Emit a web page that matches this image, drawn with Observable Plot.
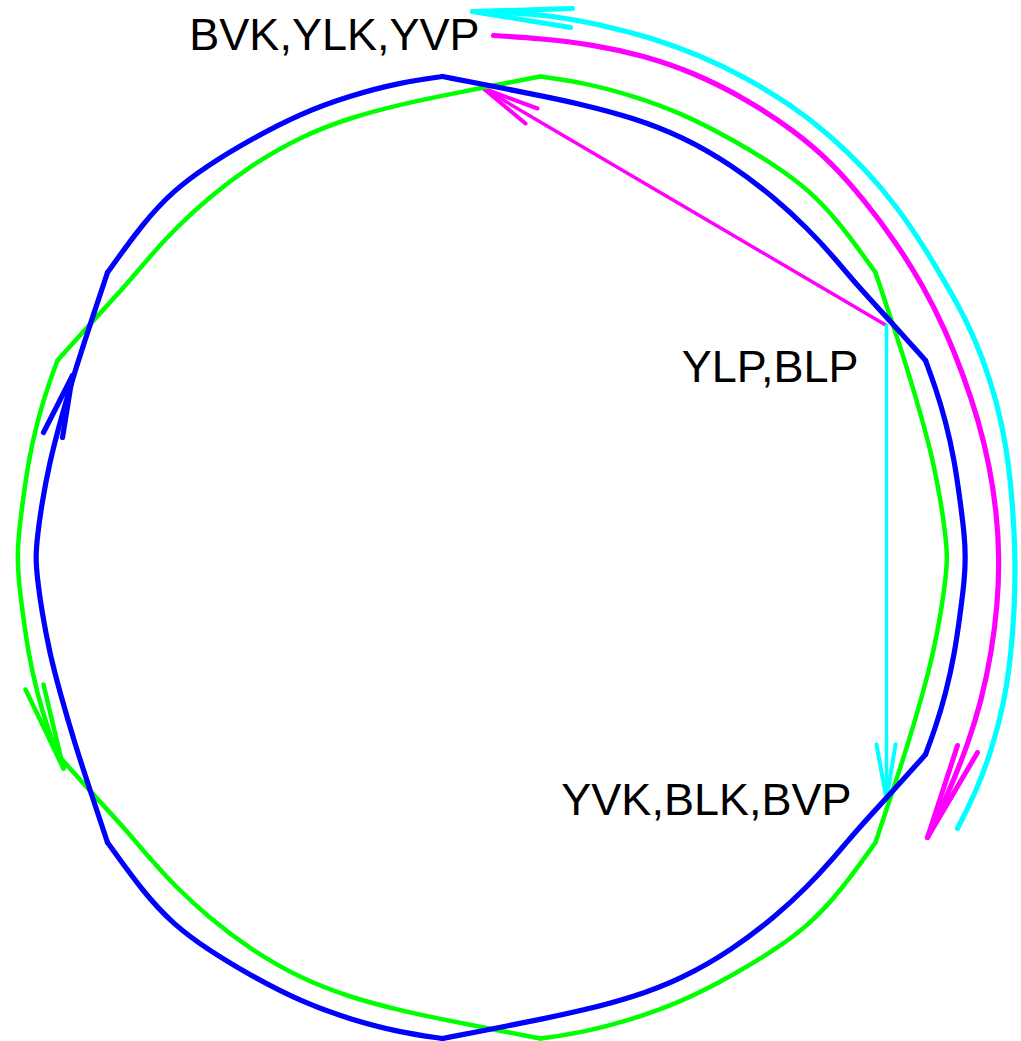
<!DOCTYPE html>
<html>
<head>
<meta charset="utf-8">
<script src="https://cdn.jsdelivr.net/npm/d3@7"></script>
<script src="https://cdn.jsdelivr.net/npm/@observablehq/plot@0.6"></script>
<style>
html,body{margin:0;padding:0;background:#fff;overflow:hidden}
#chart svg{display:block}
</style>
</head>
<body>
<div id="chart"></div>
<script>
// ---- data (plot units, y grows downward) ----
// each cycle is split into pieces at its corner points
const bluePieces = [
  [[442,76],[400,82],[350,95],[300,113],[250,139],[207,165],[173,190],[143,222],[107,272]],
  [[107,272],[90,323],[74,372],[60,420],[49,462],[41,505],[37,535],[35,557],[37,579],[41,609],[49,652],[60,694],[74,742],[90,791],[107,842]],
  [[107,842],[143,892],[173,924],[207,949],[250,975],[300,1001],[350,1019],[400,1032],[442,1038]],
  [[442,1038],[499,1027],[539,1019],[582,1010],[632,997],[682,978],[732,949],[775,916],[807,886],[832,859],[855,831],[892,791],[925,754]],
  [[925,754],[935,727],[945,694],[954,654],[960,611],[964,579],[965,557],[964,535],[960,503],[954,460],[945,420],[935,387],[925,360]],
  [[925,360],[892,323],[855,283],[832,255],[807,228],[775,198],[732,165],[682,136],[632,117],[582,104],[539,95],[499,87],[442,76]]
];
const greenPieces = [
  [[540,76],[483,87],[443,95],[400,104],[350,117],[300,136],[250,165],[207,198],[175,228],[150,255],[127,283],[90,323],[57,360]],
  [[57,360],[47,387],[37,420],[28,460],[22,503],[18,535],[17,557],[18,579],[22,611],[28,654],[37,694],[47,727],[57,754]],
  [[57,754],[90,791],[127,831],[150,859],[175,886],[207,916],[250,949],[300,978],[350,997],[400,1010],[443,1019],[483,1027],[540,1038]],
  [[540,1038],[582,1032],[632,1019],[682,1001],[732,975],[775,949],[809,924],[839,892],[875,842]],
  [[875,842],[892,791],[908,742],[922,694],[933,652],[941,609],[945,579],[947,557],[945,535],[941,505],[933,462],[922,420],[908,372],[892,323],[875,272]],
  [[875,272],[839,222],[809,190],[775,165],[732,139],[682,113],[632,95],[582,82],[540,76]]
];
const magentaArc = [
  [493,35],[540,38],[592,44],[643,55],[693,72],[745,98],[795,131],[832,163],[864,200],[895,241],[923,286],[945,330],
  [963,375],[978,420],[989,465],[996,511],[999,557],[997,605],[991,652],[981,700],[967,745],[949,790],[927,837]
];
const cyanArc = [
  [957,828],[976,790],[991,750],[1003,705],[1010,660],[1014,610],[1015,557],[1012,500],[1006,446],[996,400],
  [982,357],[966,320],[947,286],[924,247],[897,207],[866,170],[830,135],[790,104],[745,77],[700,55],[650,37],[600,24],[550,15],[510,12],[472,11]
];
const magentaChord = [[886,325],[483,88]];
const cyanDrop = [[886,325],[886,799]];

// arrowheads: tip, then the two wing ends
const blueHead = [[72,375],[43,432],[62,437]];
const greenHead = [[63,768],[25,689],[43,684]];
const magentaChordHead = [[483,88],[537,108],[525,123]];
const cyanDropHead = [[886,799],[876,744],[895,744]];
const magentaArcHead = [[927,837],[957,745],[977,752]];
const cyanArcHead = [[472,11],[572,8],[570,27]];

const labelText = ["BVK,YLK,YVP", "YLP,BLP", "YVK,BLK,BVP"];
const labelX = [479, 858, 851];
const labelY = [35, 367, 800];

// ---- build ----
const flatten = (pieces) => pieces.flatMap((p, k) => p.map(([x, y]) => ({x, y, k})));
const wings = (head) => [
  {x1: head[0][0], y1: head[0][1], x2: head[1][0], y2: head[1][1]},
  {x1: head[0][0], y1: head[0][1], x2: head[2][0], y2: head[2][1]}
];
const labels = labelText.map((t, i) => ({t, x: labelX[i], y: labelY[i]}));

const BLUE = "#0000ff", GREEN = "#00ff00", MAGENTA = "#ff00ff", CYAN = "#00ffff";
const arcOpts = (c, w) => ({x: d => d[0], y: d => d[1], stroke: c, strokeWidth: w, curve: "basis", strokeLinejoin: "round", strokeLinecap: "round"});
const pieceOpts = (c, w) => ({x: "x", y: "y", z: "k", stroke: c, strokeWidth: w, curve: "basis", strokeLinejoin: "round", strokeLinecap: "round"});
const linkOpts = (c, w) => ({x1: "x1", y1: "y1", x2: "x2", y2: "y2", stroke: c, strokeWidth: w, strokeLinecap: "round"});

const chart = Plot.plot({
  width: 1021,
  height: 1041,
  margin: 0,
  x: {domain: [0, 1021], range: [0, 1021], axis: null},
  y: {domain: [0, 1041], range: [0, 1041], axis: null},
  style: {background: "#fff"},
  marks: [
    Plot.line(cyanArc, arcOpts(CYAN, 5.2)),
    Plot.link(wings(cyanArcHead), linkOpts(CYAN, 5)),
    Plot.line(magentaArc, arcOpts(MAGENTA, 5.2)),
    Plot.link(wings(magentaArcHead), linkOpts(MAGENTA, 5)),
    Plot.line(magentaChord, arcOpts(MAGENTA, 3.5)),
    Plot.link(wings(magentaChordHead), linkOpts(MAGENTA, 4)),
    Plot.line(cyanDrop, arcOpts(CYAN, 3.5)),
    Plot.link(wings(cyanDropHead), linkOpts(CYAN, 4)),
    Plot.line(flatten(greenPieces), pieceOpts(GREEN, 4.5)),
    Plot.link(wings(greenHead), linkOpts(GREEN, 4.5)),
    Plot.line(flatten(bluePieces), pieceOpts(BLUE, 5.2)),
    Plot.link(wings(blueHead), linkOpts(BLUE, 5.2)),
    Plot.text(labels, {x: "x", y: "y", text: "t", textAnchor: "end", lineAnchor: "middle",
      fontSize: 45, fontFamily: "'Liberation Sans', Arial, sans-serif", fill: "#000"})
  ]
});
document.getElementById("chart").appendChild(chart);
</script>
</body>
</html>
